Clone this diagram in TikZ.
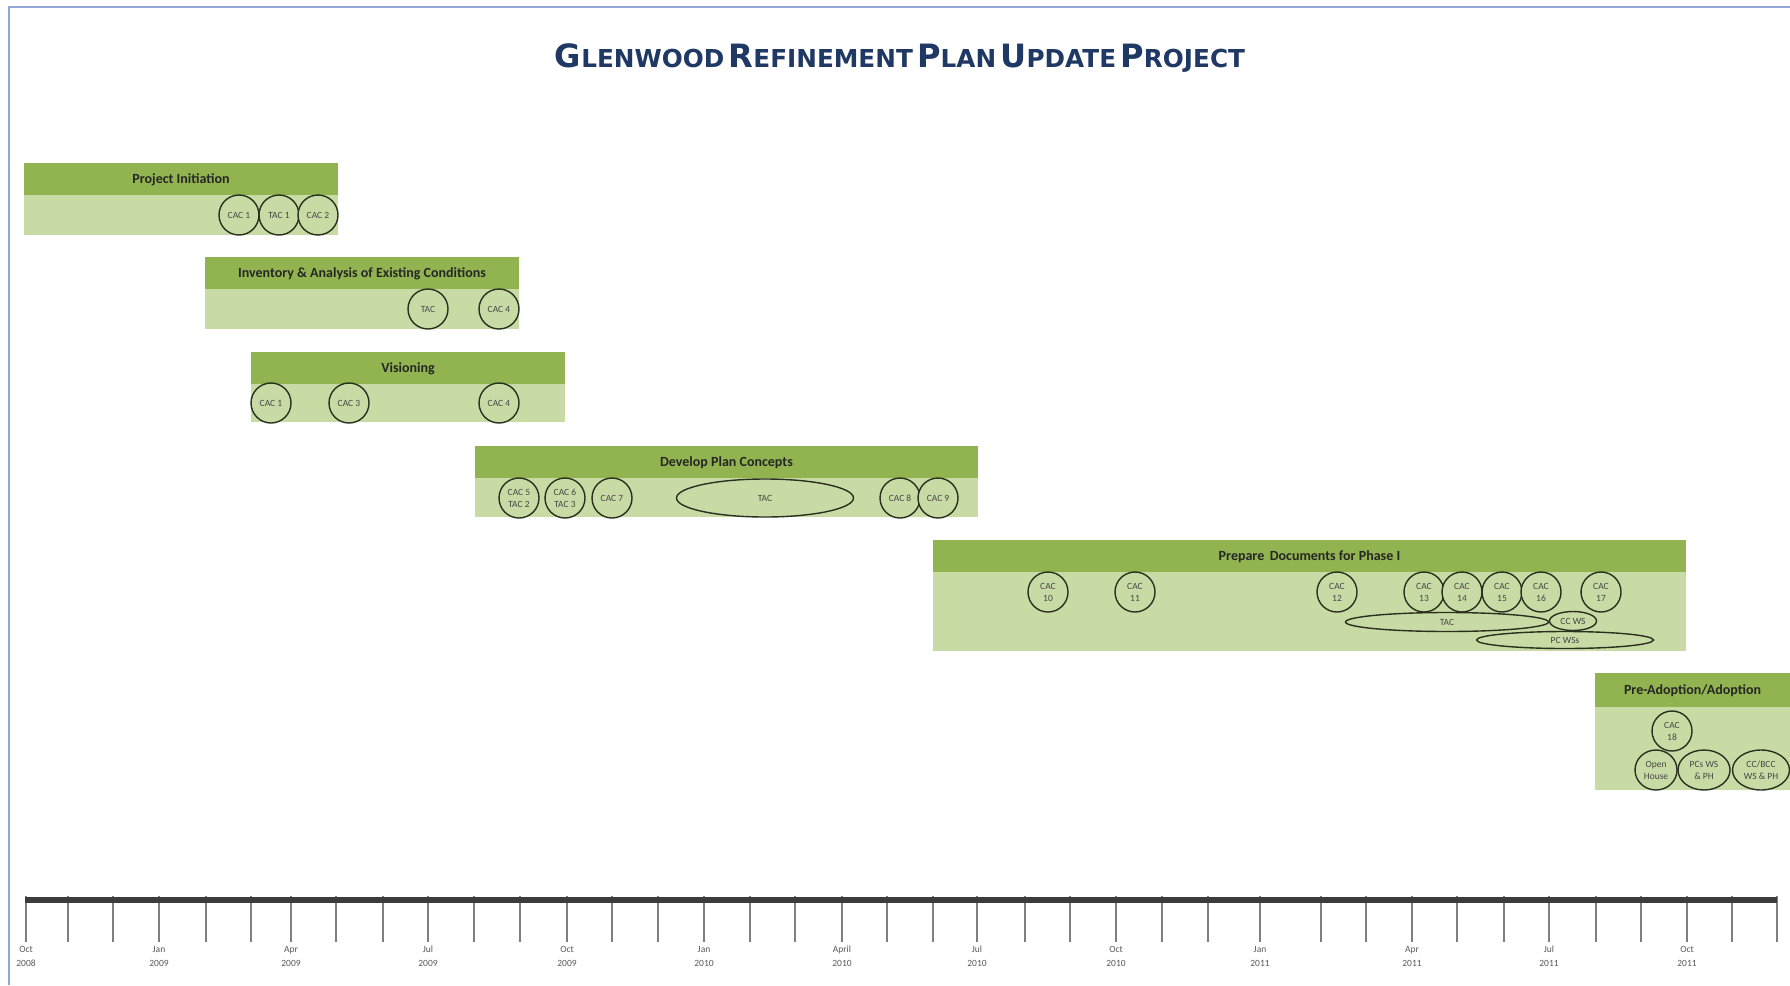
\documentclass[tikz,border=0pt]{standalone}
\usepackage{fontspec}
\setmainfont{Carlito}
\newfontfamily\titlefont{DejaVu Sans}
\usepackage{graphicx}
\usetikzlibrary{shapes.geometric}

\definecolor{headgreen}{RGB}{146,180,80}
\definecolor{bodygreen}{RGB}{201,219,165}
\definecolor{titlenavy}{RGB}{31,56,100}
\definecolor{frameblue}{RGB}{143,168,216}
\definecolor{ringcol}{RGB}{40,48,30}
\definecolor{inkgray}{RGB}{70,70,70}
\definecolor{bargray}{RGB}{60,60,60}

\newcommand{\ttlword}[2]{{\fontsize{26}{26}\selectfont #1}{\fontsize{20}{20}\selectfont #2}}

\begin{document}
\begin{tikzpicture}[x=1pt, y=-1pt,
    head/.style={fill=headgreen, anchor=north west, inner sep=0pt, outer sep=0pt,
                 minimum height=32, text depth=-3pt, font=\fontsize{14}{14}\selectfont\bfseries,
                 text=black!85},
    body/.style={fill=bodygreen, anchor=north west, inner sep=0pt, outer sep=0pt},
    mtg/.style={circle, draw=ringcol, line width=1.4pt, fill=bodygreen, minimum size=40,
                inner sep=0pt, font=\fontsize{9.5}{12}\selectfont, text=inkgray, align=center},
    oval/.style={ellipse, draw=ringcol, line width=1.4pt, fill=bodygreen, inner sep=0pt,
                 font=\fontsize{9.5}{12}\selectfont, text=inkgray, align=center},
    month/.style={font=\fontsize{9.5}{14}\selectfont, text=black!65, align=center}]
  \useasboundingbox[fill=white] (0,0) rectangle (1790,985);
  \draw[frameblue, line width=2] (9,985) -- (9,7) -- (1790,7);

  \node[text=titlenavy] (title) at (900,58) {\titlefont\bfseries\resizebox{690pt}{!}{%
    \ttlword{G}{LENWOOD} \ttlword{R}{EFINEMENT} \ttlword{P}{LAN} \ttlword{U}{PDATE} \ttlword{P}{ROJECT}}};

  % phases
  \node[head, minimum width=314] (pi) at (24,163) {Project Initiation};
  \node[body, minimum width=314, minimum height=40] (pib) at (pi.south west) {};
  \node[mtg] (pi1) at (239,215) {CAC 1};
  \node[mtg] (pi2) at (279,215) {TAC 1};
  \node[mtg] (pi3) at (318,215) {CAC 2};

  \node[head, minimum width=314] (inv) at (205,257) {Inventory \& Analysis of Existing Conditions};
  \node[body, minimum width=314, minimum height=40] (invb) at (inv.south west) {};
  \node[mtg] (inv1) at (428,309) {TAC};
  \node[mtg] (inv2) at (499,309) {CAC 4};

  \node[head, minimum width=314] (vis) at (251,352) {Visioning};
  \node[body, minimum width=314, minimum height=38] (visb) at (vis.south west) {};
  \node[mtg] (vis1) at (271,403) {CAC 1};
  \node[mtg] (vis2) at (349,403) {CAC 3};
  \node[mtg] (vis3) at (499,403) {CAC 4};

  \node[head, minimum width=503] (dpc) at (475,446) {Develop Plan Concepts};
  \node[body, minimum width=503, minimum height=39] (dpcb) at (dpc.south west) {};
  \node[mtg] (dpc1) at (519,498) {CAC 5\\TAC 2};
  \node[mtg] (dpc2) at (565,498) {CAC 6\\TAC 3};
  \node[mtg] (dpc3) at (612,498) {CAC 7};
  \node[oval, minimum width=177, minimum height=38] (dpc4) at (765,498) {TAC};
  \node[mtg] (dpc5) at (900,498) {CAC 8};
  \node[mtg] (dpc6) at (938,498) {CAC 9};

  \node[head, minimum width=753] (prep) at (933,540) {Prepare\, Documents for Phase I};
  \node[body, minimum width=753, minimum height=79] (prepb) at (prep.south west) {};
  \node[mtg] (prep1) at (1048,592) {CAC\\10};
  \node[mtg] (prep2) at (1135,592) {CAC\\11};
  \node[mtg] (prep3) at (1337,592) {CAC\\12};
  \node[mtg] (prep4) at (1424,592) {CAC\\13};
  \node[mtg] (prep5) at (1462,592) {CAC\\14};
  \node[mtg] (prep6) at (1502,592) {CAC\\15};
  \node[mtg] (prep7) at (1541,592) {CAC\\16};
  \node[mtg] (prep8) at (1601,592) {CAC\\17};
  \node[oval, minimum width=203, minimum height=19] (prep9) at (1447,622) {TAC};
  \node[oval, minimum width=47, minimum height=19] (prep10) at (1573,621) {CC WS};
  \node[oval, minimum width=177, minimum height=17] (prep11) at (1565,640) {PC WSs};

  \node[head, minimum width=195, minimum height=34] (adop) at (1595,673) {Pre-Adoption/Adoption};
  \node[body, minimum width=195, minimum height=83] (adopb) at (adop.south west) {};
  \node[mtg] (adop1) at (1672,731) {CAC\\18};
  \node[oval, minimum width=42, minimum height=40] (adop2) at (1656,770) {Open\\House};
  \node[oval, minimum width=52, minimum height=40] (adop3) at (1704,770) {PCs WS\\\& PH};
  \node[oval, minimum width=57, minimum height=40] (adop4) at (1761,770) {CC/BCC\\WS \& PH};

  % time line
  \coordinate (tl0) at (25,900);
  \coordinate (tl1) at (1777,900);
  \foreach \x in {26,68,113,159,206,251,291,336,383,428,474,520,567,612,658,704,750,795,
                  842,887,933,977,1025,1070,1116,1162,1208,1260,1321,1366,1412,1457,1504,
                  1549,1596,1641,1687,1732,1777}
    \draw[black!50, line width=1.3] (\x,896) -- (\x,942);
  \draw[bargray, line width=6] (tl0) -- (tl1);
  \foreach \x/\m/\yr [count=\i] in {26/Oct/2008, 159/Jan/2009, 291/Apr/2009, 428/Jul/2009,
                  567/Oct/2009, 704/Jan/2010, 842/April/2010, 977/Jul/2010, 1116/Oct/2010,
                  1260/Jan/2011, 1412/Apr/2011, 1549/Jul/2011, 1687/Oct/2011}
    \node[month, fill=white, inner sep=1pt] (mon\i) at (\x,956) {\m\\\yr};
\end{tikzpicture}
\end{document}
